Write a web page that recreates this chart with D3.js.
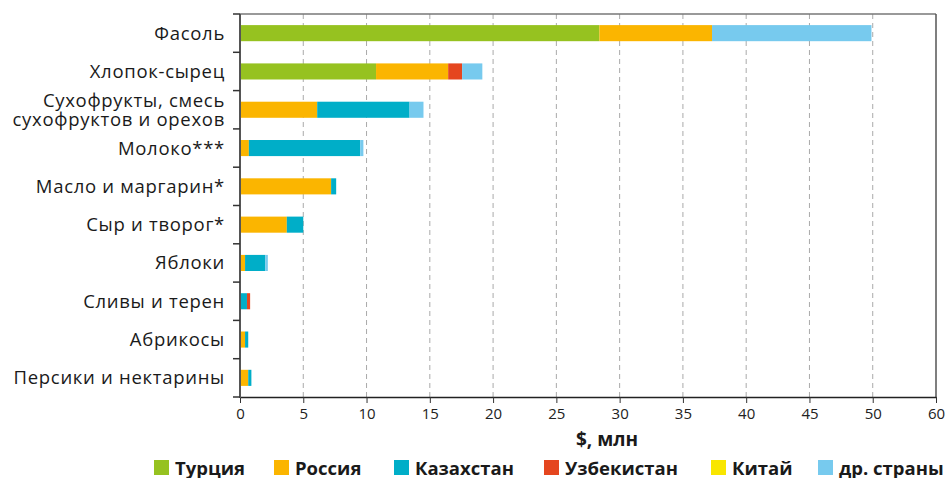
<!DOCTYPE html>
<html>
<head>
<meta charset="utf-8">
<script src="https://cdn.jsdelivr.net/npm/d3@7"></script>
<style>
  body { margin: 0; background: #fff; }
</style>
</head>
<body>
<div id="chart"></div>
<script>
const categories = [
    "Фасоль",
    "Хлопок-сырец",
    "Сухофрукты, смесь\nсухофруктов и орехов",
    "Молоко***",
    "Масло и маргарин*",
    "Сыр и творог*",
    "Яблоки",
    "Сливы и терен",
    "Абрикосы",
    "Персики и нектарины"
];
const countries = ["Турция", "Россия", "Казахстан", "Узбекистан", "Китай", "др. страны"];
const turkey     = [28.4, 10.75, 0,    0,    0,    0,   0,   0,    0,    0];
const russia     = [8.9,  5.7,   6.1,  0.7,  7.2,  3.7, 0.4, 0,    0.4,  0.65];
const kazakhstan = [0,    0,     7.3,  8.8,  0.4,  1.3, 1.6, 0.55, 0.25, 0.25];
const uzbekistan = [0,    1.1,   0,    0,    0,    0,   0,   0.25, 0,    0];
const china      = [0,    0,     0,    0,    0,    0,   0,   0,    0,    0];
const others     = [12.6, 1.6,   1.1,  0.25, 0,    0,   0.2, 0,    0,    0];
const tickValues = [0, 5, 10, 15, 20, 25, 30, 35, 40, 45, 50, 55];
const tickLabels = ["0", "5", "10", "15", "20", "25", "30", "35", "40", "45", "50", "60"];
const colors = ["#96c220", "#fbb500", "#00aec8", "#e5461f", "#f9e600", "#77caee"];

function main() {
    const width = 948, height = 478;
    const left = 240, right = 936, top = 14, bottom = 397;

    const svg = d3.select("#chart").append("svg")
        .attr("width", width)
        .attr("height", height);

    const series = [turkey, russia, kazakhstan, uzbekistan, china, others];
    const table = categories.map((c, i) => {
        const row = { cat: c };
        countries.forEach((k, j) => { row[k] = series[j][i]; });
        return row;
    });
    const stacked = d3.stack().keys(countries)(table);

    const x = d3.scaleLinear().domain([0, 55]).range([left, right]);
    const y = d3.scaleBand().domain(categories).range([top, bottom])
        .paddingInner(0.58).paddingOuter(0.29);
    const color = d3.scaleOrdinal().domain(countries).range(colors);

    // dashed grid
    svg.append("g").selectAll("line")
        .data(tickValues.filter(v => v > 0 && v < 55))
        .join("line")
        .attr("x1", d => x(d)).attr("x2", d => x(d))
        .attr("y1", top).attr("y2", bottom)
        .attr("stroke", "#aaa")
        .attr("stroke-width", 1)
        .attr("stroke-dasharray", "5,4");

    // frame top / right
    svg.append("line").attr("x1", left).attr("x2", right).attr("y1", top).attr("y2", top)
        .attr("stroke", "#777").attr("stroke-width", 1.5);
    svg.append("line").attr("x1", right).attr("x2", right).attr("y1", top).attr("y2", bottom)
        .attr("stroke", "#555").attr("stroke-width", 1.5);

    // bars
    svg.append("g").selectAll("g")
        .data(stacked)
        .join("g")
        .attr("fill", d => color(d.key))
        .selectAll("rect")
        .data(d => d.filter(p => p[1] - p[0] > 0))
        .join("rect")
        .attr("x", d => x(d[0]))
        .attr("y", d => y(d.data.cat))
        .attr("width", d => x(d[1]) - x(d[0]))
        .attr("height", y.bandwidth());

    // bottom axis
    const xAxis = svg.append("g")
        .attr("transform", "translate(0," + bottom + ")")
        .call(d3.axisBottom(x).tickValues(tickValues)
            .tickFormat((d, i) => tickLabels[i]).tickSize(6).tickSizeOuter(0).tickPadding(5));
    xAxis.select(".domain").attr("stroke", "#222").attr("stroke-width", 1.5);
    xAxis.selectAll(".tick line").attr("stroke", "#333");
    xAxis.selectAll("text")
        .attr("font-family", "Open Sans, sans-serif")
        .attr("font-size", 15)
        .attr("fill", "#222");

    // left axis: line + ticks between categories
    svg.append("line").attr("x1", left).attr("x2", left).attr("y1", top).attr("y2", bottom + 1)
        .attr("stroke", "#555").attr("stroke-width", 2);
    svg.append("g").selectAll("line")
        .data(d3.range(categories.length + 1))
        .join("line")
        .attr("x1", left - 7).attr("x2", left)
        .attr("y1", i => top + i * y.step()).attr("y2", i => top + i * y.step())
        .attr("stroke", "#333").attr("stroke-width", 1.5);

    // category labels
    const labels = svg.append("g")
        .attr("font-family", "Open Sans, sans-serif")
        .attr("font-size", 18.5)
        .attr("letter-spacing", 0.7)
        .attr("fill", "#1a1a1a")
        .attr("text-anchor", "end");
    categories.forEach(c => {
        const lines = c.split("\n");
        const cy = y(c) + y.bandwidth() / 2;
        const t = labels.append("text")
            .attr("x", 225)
            .attr("y", cy - (lines.length - 1) * 9.5);
        lines.forEach((l, i) => {
            t.append("tspan").attr("x", 225).attr("dy", i === 0 ? "0.35em" : 19).text(l);
        });
    });

    // axis title
    svg.append("text")
        .attr("x", 607).attr("y", 446)
        .attr("text-anchor", "middle")
        .attr("font-family", "Open Sans, sans-serif")
        .attr("font-weight", "bold")
        .attr("font-size", 19)
        .attr("fill", "#1a1a1a")
        .text("$, млн");

    // legend
    const legendX = [154, 274, 394, 544, 711, 818];
    const legend = svg.append("g").selectAll("g")
        .data(countries)
        .join("g")
        .attr("transform", (d, i) => "translate(" + legendX[i] + ",460)");
    legend.append("rect")
        .attr("width", 15).attr("height", 15)
        .attr("fill", d => color(d));
    legend.append("text")
        .attr("x", 21).attr("y", 15)
        .attr("font-family", "Open Sans, sans-serif")
        .attr("font-weight", "bold")
        .attr("font-size", 18.5)
        .attr("fill", "#1a1a1a")
        .text(d => d);
}
main();
</script>
</body>
</html>
